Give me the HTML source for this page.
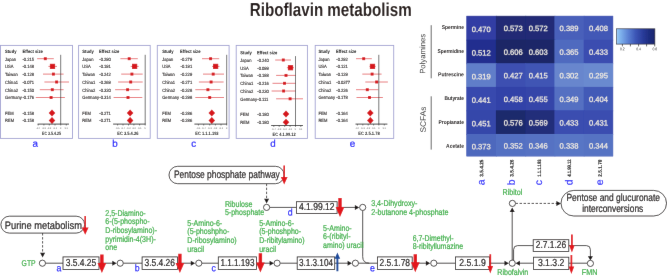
<!DOCTYPE html>
<html>
<head>
<meta charset="utf-8">
<title>Riboflavin metabolism</title>
<style>
html, body { margin: 0; padding: 0; background: #ffffff; }
body { width: 667px; height: 279px; overflow: hidden; font-family: "Liberation Sans", sans-serif; }
svg { display: block; font-family: "Liberation Sans", sans-serif; }
svg text { font-family: "Liberation Sans", sans-serif; }
</style>
</head>
<body>
<svg width="667" height="279" viewBox="0 0 667 279">
<defs><filter id="soft" x="0" y="0" width="667" height="279" filterUnits="userSpaceOnUse"><feConvolveMatrix order="3" kernelMatrix="0.00163 0.03713 0.00163 0.03713 0.84497 0.03713 0.00163 0.03713 0.00163" divisor="1" bias="0" edgeMode="duplicate" preserveAlpha="true"/></filter></defs>
<rect x="0" y="0" width="667" height="279" fill="#ffffff"/>
<g filter="url(#soft)">
<rect x="0" y="0" width="667" height="279" fill="#ffffff"/>
<text transform="translate(249.80 15.70) rotate(0.03) scale(0.8077 1)" font-size="18.8" fill="#231815" font-weight="bold">Riboflavin metabolism</text>
<rect x="0.5" y="45.4" width="72.00" height="93.00" fill="#fff" stroke="#a4a4d3" stroke-width="0.9"/>
<text transform="translate(5.00 52.90) rotate(0.03) scale(0.8800 1)" font-size="4.7" fill="#111" font-weight="bold">Study</text>
<text transform="translate(22.40 52.90) rotate(0.03) scale(0.8800 1)" font-size="4.7" fill="#111" font-weight="bold">Effect size</text>
<text transform="translate(5.00 60.50) rotate(0.03) scale(0.8700 1)" font-size="4.7" fill="#262222" stroke="#262222" stroke-width="0.12">Japan</text>
<text transform="translate(22.40 60.50) rotate(0.03) scale(0.8700 1)" font-size="4.7" fill="#262222" stroke="#262222" stroke-width="0.12">-0.215</text>
<line x1="37.1" y1="58.7" x2="53.8" y2="58.7" stroke="#d6181c" stroke-width="0.55"/>
<rect x="43.85" y="57.25" width="2.9" height="2.9" fill="#d6181c"/>
<text transform="translate(5.00 68.20) rotate(0.03) scale(0.8700 1)" font-size="4.7" fill="#262222" stroke="#262222" stroke-width="0.12">USA</text>
<text transform="translate(22.40 68.20) rotate(0.03) scale(0.8700 1)" font-size="4.7" fill="#262222" stroke="#262222" stroke-width="0.12">-0.148</text>
<line x1="48.4" y1="66.4" x2="57.0" y2="66.4" stroke="#d6181c" stroke-width="0.55"/>
<rect x="49.90" y="63.80" width="5.2" height="5.2" fill="#d6181c"/>
<text transform="translate(5.00 75.90) rotate(0.03) scale(0.8700 1)" font-size="4.7" fill="#262222" stroke="#262222" stroke-width="0.12">Taiwan</text>
<text transform="translate(22.40 75.90) rotate(0.03) scale(0.8700 1)" font-size="4.7" fill="#262222" stroke="#262222" stroke-width="0.12">-0.128</text>
<line x1="43.0" y1="74.1" x2="63.6" y2="74.1" stroke="#d6181c" stroke-width="0.55"/>
<rect x="51.95" y="72.65" width="2.9" height="2.9" fill="#d6181c"/>
<text transform="translate(5.00 83.80) rotate(0.03) scale(0.8700 1)" font-size="4.7" fill="#262222" stroke="#262222" stroke-width="0.12">China1</text>
<text transform="translate(22.40 83.80) rotate(0.03) scale(0.8700 1)" font-size="4.7" fill="#262222" stroke="#262222" stroke-width="0.12">-0.071</text>
<line x1="44.4" y1="82.0" x2="69.0" y2="82.0" stroke="#d6181c" stroke-width="0.55"/>
<rect x="55.15" y="80.55" width="2.9" height="2.9" fill="#d6181c"/>
<text transform="translate(5.00 91.50) rotate(0.03) scale(0.8700 1)" font-size="4.7" fill="#262222" stroke="#262222" stroke-width="0.12">China2</text>
<text transform="translate(22.40 91.50) rotate(0.03) scale(0.8700 1)" font-size="4.7" fill="#262222" stroke="#262222" stroke-width="0.12">-0.150</text>
<line x1="39.8" y1="89.7" x2="63.6" y2="89.7" stroke="#d6181c" stroke-width="0.55"/>
<rect x="50.85" y="88.25" width="2.9" height="2.9" fill="#d6181c"/>
<text transform="translate(5.00 99.30) rotate(0.03) scale(0.8700 1)" font-size="4.7" fill="#262222" stroke="#262222" stroke-width="0.12">Germany</text>
<text transform="translate(22.40 99.30) rotate(0.03) scale(0.8700 1)" font-size="4.7" fill="#262222" stroke="#262222" stroke-width="0.12">-0.176</text>
<line x1="35.8" y1="97.5" x2="64.9" y2="97.5" stroke="#d6181c" stroke-width="0.55"/>
<rect x="49.65" y="96.05" width="2.9" height="2.9" fill="#d6181c"/>
<text transform="translate(5.00 114.70) rotate(0.03) scale(0.8700 1)" font-size="4.7" fill="#262222" stroke="#262222" stroke-width="0.12">FEM</text>
<text transform="translate(22.40 114.70) rotate(0.03) scale(0.8700 1)" font-size="4.7" fill="#262222" stroke="#262222" stroke-width="0.12">-0.158</text>
<path d="M48.70 112.9 L52.0 109.4 L55.30 112.9 L52.0 116.4 Z" fill="#d6181c"/>
<text transform="translate(5.00 122.30) rotate(0.03) scale(0.8700 1)" font-size="4.7" fill="#262222" stroke="#262222" stroke-width="0.12">REM</text>
<text transform="translate(22.40 122.30) rotate(0.03) scale(0.8700 1)" font-size="4.7" fill="#262222" stroke="#262222" stroke-width="0.12">-0.158</text>
<path d="M48.70 120.5 L52.0 117.0 L55.30 120.5 L52.0 124.0 Z" fill="#d6181c"/>
<line x1="60.7" y1="54.8" x2="60.7" y2="124.1" stroke="#3c3c3c" stroke-width="0.7"/>
<line x1="37.6" y1="124.1" x2="69.0" y2="124.1" stroke="#222" stroke-width="0.8"/>
<line x1="38.2" y1="124.1" x2="38.2" y2="125.5" stroke="#222" stroke-width="0.55"/>
<text transform="translate(38.20 128.70) rotate(0.03) scale(0.8500 1)" font-size="2.7" fill="#555" text-anchor="middle">-0.4</text>
<line x1="43.9" y1="124.1" x2="43.9" y2="125.5" stroke="#222" stroke-width="0.55"/>
<text transform="translate(43.90 128.70) rotate(0.03) scale(0.8500 1)" font-size="2.7" fill="#555" text-anchor="middle">-0.3</text>
<line x1="49.3" y1="124.1" x2="49.3" y2="125.5" stroke="#222" stroke-width="0.55"/>
<text transform="translate(49.30 128.70) rotate(0.03) scale(0.8500 1)" font-size="2.7" fill="#555" text-anchor="middle">-0.2</text>
<line x1="55.0" y1="124.1" x2="55.0" y2="125.5" stroke="#222" stroke-width="0.55"/>
<text transform="translate(55.00 128.70) rotate(0.03) scale(0.8500 1)" font-size="2.7" fill="#555" text-anchor="middle">-0.1</text>
<line x1="60.7" y1="124.1" x2="60.7" y2="125.5" stroke="#222" stroke-width="0.55"/>
<text transform="translate(60.70 128.70) rotate(0.03) scale(0.8500 1)" font-size="2.7" fill="#555" text-anchor="middle">0</text>
<line x1="66.3" y1="124.1" x2="66.3" y2="125.5" stroke="#222" stroke-width="0.55"/>
<text transform="translate(66.30 128.70) rotate(0.03) scale(0.8500 1)" font-size="2.7" fill="#555" text-anchor="middle">0.1</text>
<text transform="translate(51.50 134.70) rotate(0.03) scale(0.7416 1)" font-size="4.8" fill="#222" font-weight="bold" text-anchor="middle">EC 3.5.4.25</text>
<rect x="78.6" y="45.4" width="71.60" height="93.00" fill="#fff" stroke="#a4a4d3" stroke-width="0.9"/>
<text transform="translate(82.30 52.90) rotate(0.03) scale(0.8800 1)" font-size="4.7" fill="#111" font-weight="bold">Study</text>
<text transform="translate(98.90 52.90) rotate(0.03) scale(0.8800 1)" font-size="4.7" fill="#111" font-weight="bold">Effect size</text>
<text transform="translate(82.30 60.50) rotate(0.03) scale(0.8700 1)" font-size="4.7" fill="#262222" stroke="#262222" stroke-width="0.12">Japan</text>
<text transform="translate(99.30 60.50) rotate(0.03) scale(0.8700 1)" font-size="4.7" fill="#262222" stroke="#262222" stroke-width="0.12">-0.290</text>
<line x1="120.4" y1="58.7" x2="137.8" y2="58.7" stroke="#d6181c" stroke-width="0.55"/>
<rect x="127.75" y="57.25" width="2.9" height="2.9" fill="#d6181c"/>
<text transform="translate(82.30 68.20) rotate(0.03) scale(0.8700 1)" font-size="4.7" fill="#262222" stroke="#262222" stroke-width="0.12">USA</text>
<text transform="translate(99.30 68.20) rotate(0.03) scale(0.8700 1)" font-size="4.7" fill="#262222" stroke="#262222" stroke-width="0.12">-0.191</text>
<line x1="130.7" y1="66.4" x2="138.7" y2="66.4" stroke="#d6181c" stroke-width="0.55"/>
<rect x="132.00" y="63.80" width="5.2" height="5.2" fill="#d6181c"/>
<text transform="translate(82.30 75.90) rotate(0.03) scale(0.8700 1)" font-size="4.7" fill="#262222" stroke="#262222" stroke-width="0.12">Taiwan</text>
<text transform="translate(99.30 75.90) rotate(0.03) scale(0.8700 1)" font-size="4.7" fill="#262222" stroke="#262222" stroke-width="0.12">-0.242</text>
<line x1="121.2" y1="74.1" x2="142.7" y2="74.1" stroke="#d6181c" stroke-width="0.55"/>
<rect x="130.45" y="72.65" width="2.9" height="2.9" fill="#d6181c"/>
<text transform="translate(82.30 83.80) rotate(0.03) scale(0.8700 1)" font-size="4.7" fill="#262222" stroke="#262222" stroke-width="0.12">China1</text>
<text transform="translate(99.30 83.80) rotate(0.03) scale(0.8700 1)" font-size="4.7" fill="#262222" stroke="#262222" stroke-width="0.12">-0.269</text>
<line x1="118.1" y1="82.0" x2="142.7" y2="82.0" stroke="#d6181c" stroke-width="0.55"/>
<rect x="129.25" y="80.55" width="2.9" height="2.9" fill="#d6181c"/>
<text transform="translate(82.30 91.50) rotate(0.03) scale(0.8700 1)" font-size="4.7" fill="#262222" stroke="#262222" stroke-width="0.12">China2</text>
<text transform="translate(99.30 91.50) rotate(0.03) scale(0.8700 1)" font-size="4.7" fill="#262222" stroke="#262222" stroke-width="0.12">-0.320</text>
<line x1="115.1" y1="89.7" x2="139.6" y2="89.7" stroke="#d6181c" stroke-width="0.55"/>
<rect x="126.15" y="88.25" width="2.9" height="2.9" fill="#d6181c"/>
<text transform="translate(82.30 99.30) rotate(0.03) scale(0.8700 1)" font-size="4.7" fill="#262222" stroke="#262222" stroke-width="0.12">Germany</text>
<text transform="translate(99.30 99.30) rotate(0.03) scale(0.8700 1)" font-size="4.7" fill="#262222" stroke="#262222" stroke-width="0.12">-0.314</text>
<line x1="113.6" y1="97.5" x2="142.3" y2="97.5" stroke="#d6181c" stroke-width="0.55"/>
<rect x="126.55" y="96.05" width="2.9" height="2.9" fill="#d6181c"/>
<text transform="translate(82.30 114.70) rotate(0.03) scale(0.8700 1)" font-size="4.7" fill="#262222" stroke="#262222" stroke-width="0.12">FEM</text>
<text transform="translate(99.30 114.70) rotate(0.03) scale(0.8700 1)" font-size="4.7" fill="#262222" stroke="#262222" stroke-width="0.12">-0.271</text>
<path d="M126.80 112.9 L130.1 109.4 L133.40 112.9 L130.1 116.4 Z" fill="#d6181c"/>
<text transform="translate(82.30 122.30) rotate(0.03) scale(0.8700 1)" font-size="4.7" fill="#262222" stroke="#262222" stroke-width="0.12">REM</text>
<text transform="translate(99.30 122.30) rotate(0.03) scale(0.8700 1)" font-size="4.7" fill="#262222" stroke="#262222" stroke-width="0.12">-0.271</text>
<path d="M126.80 120.5 L130.1 117.0 L133.40 120.5 L130.1 124.0 Z" fill="#d6181c"/>
<line x1="145.2" y1="54.8" x2="145.2" y2="124.1" stroke="#3c3c3c" stroke-width="0.7"/>
<line x1="113.1" y1="124.1" x2="145.6" y2="124.1" stroke="#222" stroke-width="0.8"/>
<line x1="117.6" y1="124.1" x2="117.6" y2="125.5" stroke="#222" stroke-width="0.55"/>
<text transform="translate(117.60 128.70) rotate(0.03) scale(0.8500 1)" font-size="2.7" fill="#555" text-anchor="middle">-0.5</text>
<line x1="123.0" y1="124.1" x2="123.0" y2="125.5" stroke="#222" stroke-width="0.55"/>
<text transform="translate(123.00 128.70) rotate(0.03) scale(0.8500 1)" font-size="2.7" fill="#555" text-anchor="middle">-0.4</text>
<line x1="128.5" y1="124.1" x2="128.5" y2="125.5" stroke="#222" stroke-width="0.55"/>
<text transform="translate(128.50 128.70) rotate(0.03) scale(0.8500 1)" font-size="2.7" fill="#555" text-anchor="middle">-0.3</text>
<line x1="133.9" y1="124.1" x2="133.9" y2="125.5" stroke="#222" stroke-width="0.55"/>
<text transform="translate(133.90 128.70) rotate(0.03) scale(0.8500 1)" font-size="2.7" fill="#555" text-anchor="middle">-0.2</text>
<line x1="139.6" y1="124.1" x2="139.6" y2="125.5" stroke="#222" stroke-width="0.55"/>
<text transform="translate(139.60 128.70) rotate(0.03) scale(0.8500 1)" font-size="2.7" fill="#555" text-anchor="middle">-0.1</text>
<line x1="145.2" y1="124.1" x2="145.2" y2="125.5" stroke="#222" stroke-width="0.55"/>
<text transform="translate(145.20 128.70) rotate(0.03) scale(0.8500 1)" font-size="2.7" fill="#555" text-anchor="middle">0</text>
<text transform="translate(127.80 134.70) rotate(0.03) scale(0.8363 1)" font-size="4.8" fill="#222" font-weight="bold" text-anchor="middle">EC 3.5.4.26</text>
<rect x="157.3" y="45.4" width="71.80" height="93.00" fill="#fff" stroke="#a4a4d3" stroke-width="0.9"/>
<text transform="translate(162.20 52.90) rotate(0.03) scale(0.8800 1)" font-size="4.7" fill="#111" font-weight="bold">Study</text>
<text transform="translate(180.10 52.90) rotate(0.03) scale(0.8800 1)" font-size="4.7" fill="#111" font-weight="bold">Effect size</text>
<text transform="translate(162.20 60.50) rotate(0.03) scale(0.8700 1)" font-size="4.7" fill="#262222" stroke="#262222" stroke-width="0.12">Japan</text>
<text transform="translate(180.60 60.50) rotate(0.03) scale(0.8700 1)" font-size="4.7" fill="#262222" stroke="#262222" stroke-width="0.12">-0.279</text>
<line x1="202.0" y1="58.7" x2="219.2" y2="58.7" stroke="#d6181c" stroke-width="0.55"/>
<rect x="209.15" y="57.25" width="2.9" height="2.9" fill="#d6181c"/>
<text transform="translate(162.20 68.20) rotate(0.03) scale(0.8700 1)" font-size="4.7" fill="#262222" stroke="#262222" stroke-width="0.12">USA</text>
<text transform="translate(180.60 68.20) rotate(0.03) scale(0.8700 1)" font-size="4.7" fill="#262222" stroke="#262222" stroke-width="0.12">-0.191</text>
<line x1="212.0" y1="66.4" x2="219.5" y2="66.4" stroke="#d6181c" stroke-width="0.55"/>
<rect x="213.00" y="63.80" width="5.2" height="5.2" fill="#d6181c"/>
<text transform="translate(162.20 75.90) rotate(0.03) scale(0.8700 1)" font-size="4.7" fill="#262222" stroke="#262222" stroke-width="0.12">Taiwan</text>
<text transform="translate(180.60 75.90) rotate(0.03) scale(0.8700 1)" font-size="4.7" fill="#262222" stroke="#262222" stroke-width="0.12">-0.229</text>
<line x1="203.0" y1="74.1" x2="224.0" y2="74.1" stroke="#d6181c" stroke-width="0.55"/>
<rect x="211.75" y="72.65" width="2.9" height="2.9" fill="#d6181c"/>
<text transform="translate(162.20 83.80) rotate(0.03) scale(0.8700 1)" font-size="4.7" fill="#262222" stroke="#262222" stroke-width="0.12">China1</text>
<text transform="translate(180.60 83.80) rotate(0.03) scale(0.8700 1)" font-size="4.7" fill="#262222" stroke="#262222" stroke-width="0.12">-0.271</text>
<line x1="198.9" y1="82.0" x2="223.6" y2="82.0" stroke="#d6181c" stroke-width="0.55"/>
<rect x="209.65" y="80.55" width="2.9" height="2.9" fill="#d6181c"/>
<text transform="translate(162.20 91.50) rotate(0.03) scale(0.8700 1)" font-size="4.7" fill="#262222" stroke="#262222" stroke-width="0.12">China2</text>
<text transform="translate(180.60 91.50) rotate(0.03) scale(0.8700 1)" font-size="4.7" fill="#262222" stroke="#262222" stroke-width="0.12">-0.328</text>
<line x1="195.3" y1="89.7" x2="220.4" y2="89.7" stroke="#d6181c" stroke-width="0.55"/>
<rect x="206.45" y="88.25" width="2.9" height="2.9" fill="#d6181c"/>
<text transform="translate(162.20 99.30) rotate(0.03) scale(0.8700 1)" font-size="4.7" fill="#262222" stroke="#262222" stroke-width="0.12">Germany</text>
<text transform="translate(180.60 99.30) rotate(0.03) scale(0.8700 1)" font-size="4.7" fill="#262222" stroke="#262222" stroke-width="0.12">-0.298</text>
<line x1="195.3" y1="97.5" x2="224.0" y2="97.5" stroke="#d6181c" stroke-width="0.55"/>
<rect x="208.25" y="96.05" width="2.9" height="2.9" fill="#d6181c"/>
<text transform="translate(162.20 114.70) rotate(0.03) scale(0.8700 1)" font-size="4.7" fill="#262222" stroke="#262222" stroke-width="0.12">FEM</text>
<text transform="translate(180.60 114.70) rotate(0.03) scale(0.8700 1)" font-size="4.7" fill="#262222" stroke="#262222" stroke-width="0.12">-0.286</text>
<path d="M208.50 112.9 L211.8 109.4 L215.10 112.9 L211.8 116.4 Z" fill="#d6181c"/>
<text transform="translate(162.20 122.30) rotate(0.03) scale(0.8700 1)" font-size="4.7" fill="#262222" stroke="#262222" stroke-width="0.12">REM</text>
<text transform="translate(180.60 122.30) rotate(0.03) scale(0.8700 1)" font-size="4.7" fill="#262222" stroke="#262222" stroke-width="0.12">-0.286</text>
<path d="M208.50 120.5 L211.8 117.0 L215.10 120.5 L211.8 124.0 Z" fill="#d6181c"/>
<line x1="226.7" y1="54.8" x2="226.7" y2="124.1" stroke="#3c3c3c" stroke-width="0.7"/>
<line x1="194.4" y1="124.1" x2="227.1" y2="124.1" stroke="#222" stroke-width="0.8"/>
<line x1="198.4" y1="124.1" x2="198.4" y2="125.5" stroke="#222" stroke-width="0.55"/>
<text transform="translate(198.40 128.70) rotate(0.03) scale(0.8500 1)" font-size="2.7" fill="#555" text-anchor="middle">-0.5</text>
<line x1="203.7" y1="124.1" x2="203.7" y2="125.5" stroke="#222" stroke-width="0.55"/>
<text transform="translate(203.70 128.70) rotate(0.03) scale(0.8500 1)" font-size="2.7" fill="#555" text-anchor="middle">-0.4</text>
<line x1="209.7" y1="124.1" x2="209.7" y2="125.5" stroke="#222" stroke-width="0.55"/>
<text transform="translate(209.70 128.70) rotate(0.03) scale(0.8500 1)" font-size="2.7" fill="#555" text-anchor="middle">-0.3</text>
<line x1="215.4" y1="124.1" x2="215.4" y2="125.5" stroke="#222" stroke-width="0.55"/>
<text transform="translate(215.40 128.70) rotate(0.03) scale(0.8500 1)" font-size="2.7" fill="#555" text-anchor="middle">-0.2</text>
<line x1="221.0" y1="124.1" x2="221.0" y2="125.5" stroke="#222" stroke-width="0.55"/>
<text transform="translate(221.00 128.70) rotate(0.03) scale(0.8500 1)" font-size="2.7" fill="#555" text-anchor="middle">-0.1</text>
<line x1="226.7" y1="124.1" x2="226.7" y2="125.5" stroke="#222" stroke-width="0.55"/>
<text transform="translate(226.70 128.70) rotate(0.03) scale(0.8500 1)" font-size="2.7" fill="#555" text-anchor="middle">0</text>
<text transform="translate(206.95 134.70) rotate(0.03) scale(0.8316 1)" font-size="4.8" fill="#222" font-weight="bold" text-anchor="middle">EC 1.1.1.193</text>
<rect x="236.2" y="45.4" width="71.20" height="93.00" fill="#fff" stroke="#a4a4d3" stroke-width="0.9"/>
<text transform="translate(240.30 54.20) rotate(0.03) scale(0.8800 1)" font-size="4.7" fill="#111" font-weight="bold">Study</text>
<text transform="translate(256.90 54.20) rotate(0.03) scale(0.8800 1)" font-size="4.7" fill="#111" font-weight="bold">Effect size</text>
<text transform="translate(240.30 61.80) rotate(0.03) scale(0.8700 1)" font-size="4.7" fill="#262222" stroke="#262222" stroke-width="0.12">Japan</text>
<text transform="translate(257.30 61.80) rotate(0.03) scale(0.8700 1)" font-size="4.7" fill="#262222" stroke="#262222" stroke-width="0.12">-0.240</text>
<line x1="275.2" y1="60.0" x2="291.0" y2="60.0" stroke="#d6181c" stroke-width="0.55"/>
<rect x="281.85" y="58.55" width="2.9" height="2.9" fill="#d6181c"/>
<text transform="translate(240.30 69.50) rotate(0.03) scale(0.8700 1)" font-size="4.7" fill="#262222" stroke="#262222" stroke-width="0.12">USA</text>
<text transform="translate(257.30 69.50) rotate(0.03) scale(0.8700 1)" font-size="4.7" fill="#262222" stroke="#262222" stroke-width="0.12">-0.099</text>
<line x1="286.9" y1="67.7" x2="294.0" y2="67.7" stroke="#d6181c" stroke-width="0.55"/>
<rect x="287.90" y="65.10" width="5.2" height="5.2" fill="#d6181c"/>
<text transform="translate(240.30 77.20) rotate(0.03) scale(0.8700 1)" font-size="4.7" fill="#262222" stroke="#262222" stroke-width="0.12">Taiwan</text>
<text transform="translate(257.30 77.20) rotate(0.03) scale(0.8700 1)" font-size="4.7" fill="#262222" stroke="#262222" stroke-width="0.12">-0.188</text>
<line x1="276.1" y1="75.39999999999999" x2="295.8" y2="75.39999999999999" stroke="#d6181c" stroke-width="0.55"/>
<rect x="284.55" y="73.95" width="2.9" height="2.9" fill="#d6181c"/>
<text transform="translate(240.30 85.10) rotate(0.03) scale(0.8700 1)" font-size="4.7" fill="#262222" stroke="#262222" stroke-width="0.12">China1</text>
<text transform="translate(257.30 85.10) rotate(0.03) scale(0.8700 1)" font-size="4.7" fill="#262222" stroke="#262222" stroke-width="0.12">-0.216</text>
<line x1="272.5" y1="83.3" x2="295.8" y2="83.3" stroke="#d6181c" stroke-width="0.55"/>
<rect x="283.05" y="81.85" width="2.9" height="2.9" fill="#d6181c"/>
<text transform="translate(240.30 92.80) rotate(0.03) scale(0.8700 1)" font-size="4.7" fill="#262222" stroke="#262222" stroke-width="0.12">China2</text>
<text transform="translate(257.30 92.80) rotate(0.03) scale(0.8700 1)" font-size="4.7" fill="#262222" stroke="#262222" stroke-width="0.12">-0.230</text>
<line x1="271.6" y1="91.0" x2="295.8" y2="91.0" stroke="#d6181c" stroke-width="0.55"/>
<rect x="282.15" y="89.55" width="2.9" height="2.9" fill="#d6181c"/>
<text transform="translate(240.30 100.60) rotate(0.03) scale(0.8700 1)" font-size="4.7" fill="#262222" stroke="#262222" stroke-width="0.12">Germany</text>
<text transform="translate(257.30 100.60) rotate(0.03) scale(0.8700 1)" font-size="4.7" fill="#262222" stroke="#262222" stroke-width="0.12">-0.111</text>
<line x1="276.1" y1="98.8" x2="303.0" y2="98.8" stroke="#d6181c" stroke-width="0.55"/>
<rect x="288.65" y="97.35" width="2.9" height="2.9" fill="#d6181c"/>
<text transform="translate(240.30 115.74) rotate(0.03) scale(0.8700 1)" font-size="4.7" fill="#262222" stroke="#262222" stroke-width="0.12">FEM</text>
<text transform="translate(257.30 115.74) rotate(0.03) scale(0.8700 1)" font-size="4.7" fill="#262222" stroke="#262222" stroke-width="0.12">-0.180</text>
<path d="M282.70 113.94000000000001 L286.0 110.44000000000001 L289.30 113.94000000000001 L286.0 117.44000000000001 Z" fill="#d6181c"/>
<text transform="translate(240.30 123.99) rotate(0.03) scale(0.8700 1)" font-size="4.7" fill="#262222" stroke="#262222" stroke-width="0.12">REM</text>
<text transform="translate(257.30 123.99) rotate(0.03) scale(0.8700 1)" font-size="4.7" fill="#262222" stroke="#262222" stroke-width="0.12">-0.180</text>
<path d="M282.70 122.19 L286.0 118.69 L289.30 122.19 L286.0 125.69 Z" fill="#d6181c"/>
<line x1="295.5" y1="56.099999999999994" x2="295.5" y2="125.53" stroke="#3c3c3c" stroke-width="0.7"/>
<line x1="271.1" y1="125.53" x2="303.0" y2="125.53" stroke="#222" stroke-width="0.8"/>
<line x1="273.8" y1="125.53" x2="273.8" y2="126.93" stroke="#222" stroke-width="0.55"/>
<text transform="translate(273.80 130.13) rotate(0.03) scale(0.8500 1)" font-size="2.7" fill="#555" text-anchor="middle">-0.4</text>
<line x1="279.2" y1="125.53" x2="279.2" y2="126.93" stroke="#222" stroke-width="0.55"/>
<text transform="translate(279.20 130.13) rotate(0.03) scale(0.8500 1)" font-size="2.7" fill="#555" text-anchor="middle">-0.3</text>
<line x1="284.7" y1="125.53" x2="284.7" y2="126.93" stroke="#222" stroke-width="0.55"/>
<text transform="translate(284.70 130.13) rotate(0.03) scale(0.8500 1)" font-size="2.7" fill="#555" text-anchor="middle">-0.2</text>
<line x1="290.1" y1="125.53" x2="290.1" y2="126.93" stroke="#222" stroke-width="0.55"/>
<text transform="translate(290.10 130.13) rotate(0.03) scale(0.8500 1)" font-size="2.7" fill="#555" text-anchor="middle">-0.1</text>
<line x1="295.5" y1="125.53" x2="295.5" y2="126.93" stroke="#222" stroke-width="0.55"/>
<text transform="translate(295.50 130.13) rotate(0.03) scale(0.8500 1)" font-size="2.7" fill="#555" text-anchor="middle">0</text>
<line x1="300.8" y1="125.53" x2="300.8" y2="126.93" stroke="#222" stroke-width="0.55"/>
<text transform="translate(300.80 130.13) rotate(0.03) scale(0.8500 1)" font-size="2.7" fill="#555" text-anchor="middle">0.1</text>
<text transform="translate(284.15 135.61) rotate(0.03) scale(0.8316 1)" font-size="4.8" fill="#222" font-weight="bold" text-anchor="middle">EC 4.1.99.12</text>
<rect x="315.2" y="45.4" width="78.50" height="93.00" fill="#fff" stroke="#a4a4d3" stroke-width="0.9"/>
<text transform="translate(318.40 52.90) rotate(0.03) scale(0.8800 1)" font-size="4.7" fill="#111" font-weight="bold">Study</text>
<text transform="translate(335.90 52.90) rotate(0.03) scale(0.8800 1)" font-size="4.7" fill="#111" font-weight="bold">Effect size</text>
<text transform="translate(318.40 60.50) rotate(0.03) scale(0.8700 1)" font-size="4.7" fill="#262222" stroke="#262222" stroke-width="0.12">Japan</text>
<text transform="translate(336.30 60.50) rotate(0.03) scale(0.8700 1)" font-size="4.7" fill="#262222" stroke="#262222" stroke-width="0.12">-0.292</text>
<line x1="356.0" y1="58.7" x2="371.8" y2="58.7" stroke="#d6181c" stroke-width="0.55"/>
<rect x="362.25" y="57.25" width="2.9" height="2.9" fill="#d6181c"/>
<text transform="translate(318.40 68.20) rotate(0.03) scale(0.8700 1)" font-size="4.7" fill="#262222" stroke="#262222" stroke-width="0.12">USA</text>
<text transform="translate(336.30 68.20) rotate(0.03) scale(0.8700 1)" font-size="4.7" fill="#262222" stroke="#262222" stroke-width="0.12">-0.121</text>
<line x1="369.5" y1="66.4" x2="375.7" y2="66.4" stroke="#d6181c" stroke-width="0.55"/>
<rect x="369.90" y="63.80" width="5.2" height="5.2" fill="#d6181c"/>
<text transform="translate(318.40 75.90) rotate(0.03) scale(0.8700 1)" font-size="4.7" fill="#262222" stroke="#262222" stroke-width="0.12">Taiwan</text>
<text transform="translate(336.30 75.90) rotate(0.03) scale(0.8700 1)" font-size="4.7" fill="#262222" stroke="#262222" stroke-width="0.12">-0.129</text>
<line x1="362.3" y1="74.1" x2="381.6" y2="74.1" stroke="#d6181c" stroke-width="0.55"/>
<rect x="370.65" y="72.65" width="2.9" height="2.9" fill="#d6181c"/>
<text transform="translate(318.40 83.80) rotate(0.03) scale(0.8700 1)" font-size="4.7" fill="#262222" stroke="#262222" stroke-width="0.12">China1</text>
<text transform="translate(336.30 83.80) rotate(0.03) scale(0.8700 1)" font-size="4.7" fill="#262222" stroke="#262222" stroke-width="0.12">-0.0377</text>
<line x1="365.3" y1="82.0" x2="387.9" y2="82.0" stroke="#d6181c" stroke-width="0.55"/>
<rect x="375.15" y="80.55" width="2.9" height="2.9" fill="#d6181c"/>
<text transform="translate(318.40 91.50) rotate(0.03) scale(0.8700 1)" font-size="4.7" fill="#262222" stroke="#262222" stroke-width="0.12">China2</text>
<text transform="translate(336.30 91.50) rotate(0.03) scale(0.8700 1)" font-size="4.7" fill="#262222" stroke="#262222" stroke-width="0.12">-0.226</text>
<line x1="356.0" y1="89.7" x2="378.4" y2="89.7" stroke="#d6181c" stroke-width="0.55"/>
<rect x="365.85" y="88.25" width="2.9" height="2.9" fill="#d6181c"/>
<text transform="translate(318.40 99.30) rotate(0.03) scale(0.8700 1)" font-size="4.7" fill="#262222" stroke="#262222" stroke-width="0.12">Germany</text>
<text transform="translate(336.30 99.30) rotate(0.03) scale(0.8700 1)" font-size="4.7" fill="#262222" stroke="#262222" stroke-width="0.12">-0.178</text>
<line x1="356.5" y1="97.5" x2="382.9" y2="97.5" stroke="#d6181c" stroke-width="0.55"/>
<rect x="368.05" y="96.05" width="2.9" height="2.9" fill="#d6181c"/>
<text transform="translate(318.40 114.70) rotate(0.03) scale(0.8700 1)" font-size="4.7" fill="#262222" stroke="#262222" stroke-width="0.12">FEM</text>
<text transform="translate(336.30 114.70) rotate(0.03) scale(0.8700 1)" font-size="4.7" fill="#262222" stroke="#262222" stroke-width="0.12">-0.164</text>
<path d="M367.00 112.9 L370.3 109.4 L373.60 112.9 L370.3 116.4 Z" fill="#d6181c"/>
<text transform="translate(318.40 122.30) rotate(0.03) scale(0.8700 1)" font-size="4.7" fill="#262222" stroke="#262222" stroke-width="0.12">REM</text>
<text transform="translate(336.30 122.30) rotate(0.03) scale(0.8700 1)" font-size="4.7" fill="#262222" stroke="#262222" stroke-width="0.12">-0.164</text>
<path d="M367.00 120.5 L370.3 117.0 L373.60 120.5 L370.3 124.0 Z" fill="#d6181c"/>
<line x1="378.8" y1="54.8" x2="378.8" y2="124.1" stroke="#3c3c3c" stroke-width="0.7"/>
<line x1="355.5" y1="124.1" x2="387.4" y2="124.1" stroke="#222" stroke-width="0.8"/>
<line x1="357.4" y1="124.1" x2="357.4" y2="125.5" stroke="#222" stroke-width="0.55"/>
<text transform="translate(357.40 128.70) rotate(0.03) scale(0.8500 1)" font-size="2.7" fill="#555" text-anchor="middle">-0.4</text>
<line x1="362.8" y1="124.1" x2="362.8" y2="125.5" stroke="#222" stroke-width="0.55"/>
<text transform="translate(362.80 128.70) rotate(0.03) scale(0.8500 1)" font-size="2.7" fill="#555" text-anchor="middle">-0.3</text>
<line x1="368.2" y1="124.1" x2="368.2" y2="125.5" stroke="#222" stroke-width="0.55"/>
<text transform="translate(368.20 128.70) rotate(0.03) scale(0.8500 1)" font-size="2.7" fill="#555" text-anchor="middle">-0.2</text>
<line x1="373.6" y1="124.1" x2="373.6" y2="125.5" stroke="#222" stroke-width="0.55"/>
<text transform="translate(373.60 128.70) rotate(0.03) scale(0.8500 1)" font-size="2.7" fill="#555" text-anchor="middle">-0.1</text>
<line x1="378.8" y1="124.1" x2="378.8" y2="125.5" stroke="#222" stroke-width="0.55"/>
<text transform="translate(378.80 128.70) rotate(0.03) scale(0.8500 1)" font-size="2.7" fill="#555" text-anchor="middle">0</text>
<line x1="384.3" y1="124.1" x2="384.3" y2="125.5" stroke="#222" stroke-width="0.55"/>
<text transform="translate(384.30 128.70) rotate(0.03) scale(0.8500 1)" font-size="2.7" fill="#555" text-anchor="middle">0.1</text>
<text transform="translate(368.95 134.70) rotate(0.03) scale(0.8481 1)" font-size="4.8" fill="#222" font-weight="bold" text-anchor="middle">EC 2.5.1.78</text>
<text transform="translate(35.20 146.80) rotate(0.03) scale(1.0000 1)" font-size="9.8" fill="#2323fb" text-anchor="middle" stroke="#2323fb" stroke-width="0.2">a</text>
<text transform="translate(115.00 146.80) rotate(0.03) scale(1.0000 1)" font-size="9.8" fill="#2323fb" text-anchor="middle" stroke="#2323fb" stroke-width="0.2">b</text>
<text transform="translate(193.70 146.80) rotate(0.03) scale(1.0000 1)" font-size="9.8" fill="#2323fb" text-anchor="middle" stroke="#2323fb" stroke-width="0.2">c</text>
<text transform="translate(273.00 146.80) rotate(0.03) scale(1.0000 1)" font-size="9.8" fill="#2323fb" text-anchor="middle" stroke="#2323fb" stroke-width="0.2">d</text>
<text transform="translate(352.40 146.80) rotate(0.03) scale(1.0000 1)" font-size="9.8" fill="#2323fb" text-anchor="middle" stroke="#2323fb" stroke-width="0.2">e</text>
<rect x="466.5" y="15.9" width="146.60" height="140.40" fill="#3a4eae"/>
<rect x="466.5" y="15.9" width="30.40" height="24.80" fill="rgb(48, 62, 164)"/>
<rect x="495.9" y="15.9" width="30.30" height="24.80" fill="rgb(32, 44, 116)"/>
<rect x="525.2" y="15.9" width="30.20" height="24.80" fill="rgb(32, 44, 118)"/>
<rect x="554.4" y="15.9" width="30.30" height="24.80" fill="rgb(72, 96, 186)"/>
<rect x="583.7" y="15.9" width="29.40" height="24.80" fill="rgb(66, 88, 182)"/>
<rect x="466.5" y="39.7" width="30.40" height="24.50" fill="rgb(33, 47, 143)"/>
<rect x="495.9" y="39.7" width="30.30" height="24.50" fill="rgb(28, 39, 102)"/>
<rect x="525.2" y="39.7" width="30.20" height="24.50" fill="rgb(28, 39, 103)"/>
<rect x="554.4" y="39.7" width="30.30" height="24.50" fill="rgb(79, 106, 191)"/>
<rect x="583.7" y="39.7" width="29.40" height="24.50" fill="rgb(58, 77, 176)"/>
<rect x="466.5" y="63.2" width="30.40" height="24.70" fill="rgb(96, 126, 201)"/>
<rect x="495.9" y="63.2" width="30.30" height="24.70" fill="rgb(60, 80, 177)"/>
<rect x="525.2" y="63.2" width="30.20" height="24.70" fill="rgb(64, 85, 180)"/>
<rect x="554.4" y="63.2" width="30.30" height="24.70" fill="rgb(103, 134, 205)"/>
<rect x="583.7" y="63.2" width="29.40" height="24.70" fill="rgb(106, 138, 207)"/>
<rect x="466.5" y="86.9" width="30.40" height="24.40" fill="rgb(56, 74, 174)"/>
<rect x="495.9" y="86.9" width="30.30" height="24.40" fill="rgb(51, 67, 168)"/>
<rect x="525.2" y="86.9" width="30.20" height="24.40" fill="rgb(52, 68, 169)"/>
<rect x="554.4" y="86.9" width="30.30" height="24.40" fill="rgb(84, 112, 194)"/>
<rect x="583.7" y="86.9" width="29.40" height="24.40" fill="rgb(67, 90, 183)"/>
<rect x="466.5" y="110.3" width="30.40" height="24.70" fill="rgb(53, 70, 170)"/>
<rect x="495.9" y="110.3" width="30.30" height="24.70" fill="rgb(30, 42, 108)"/>
<rect x="525.2" y="110.3" width="30.20" height="24.70" fill="rgb(33, 45, 122)"/>
<rect x="554.4" y="110.3" width="30.30" height="24.70" fill="rgb(58, 77, 176)"/>
<rect x="583.7" y="110.3" width="29.40" height="24.70" fill="rgb(59, 78, 176)"/>
<rect x="466.5" y="134.0" width="30.40" height="22.30" fill="rgb(77, 103, 189)"/>
<rect x="495.9" y="134.0" width="30.30" height="22.30" fill="rgb(83, 111, 194)"/>
<rect x="525.2" y="134.0" width="30.20" height="22.30" fill="rgb(86, 114, 195)"/>
<rect x="554.4" y="134.0" width="30.30" height="22.30" fill="rgb(89, 118, 197)"/>
<rect x="583.7" y="134.0" width="29.40" height="22.30" fill="rgb(86, 115, 195)"/>
<text transform="translate(481.20 31.90) rotate(0.03) scale(0.9860 1)" font-size="7.7" fill="#ece8e0" text-anchor="middle" stroke="#ece8e0" stroke-width="0.25">0.470</text>
<text transform="translate(513.15 31.10) rotate(0.03) scale(0.9860 1)" font-size="7.7" fill="#ece8e0" text-anchor="middle" stroke="#ece8e0" stroke-width="0.25">0.573</text>
<text transform="translate(538.20 31.10) rotate(0.03) scale(0.9860 1)" font-size="7.7" fill="#ece8e0" text-anchor="middle" stroke="#ece8e0" stroke-width="0.25">0.572</text>
<text transform="translate(569.05 31.10) rotate(0.03) scale(0.9860 1)" font-size="7.7" fill="#ece8e0" text-anchor="middle" stroke="#ece8e0" stroke-width="0.25">0.389</text>
<text transform="translate(598.40 31.10) rotate(0.03) scale(0.9860 1)" font-size="7.7" fill="#ece8e0" text-anchor="middle" stroke="#ece8e0" stroke-width="0.25">0.408</text>
<text transform="translate(481.20 55.55) rotate(0.03) scale(0.9860 1)" font-size="7.7" fill="#ece8e0" text-anchor="middle" stroke="#ece8e0" stroke-width="0.25">0.512</text>
<text transform="translate(513.15 54.75) rotate(0.03) scale(0.9860 1)" font-size="7.7" fill="#ece8e0" text-anchor="middle" stroke="#ece8e0" stroke-width="0.25">0.606</text>
<text transform="translate(538.20 54.75) rotate(0.03) scale(0.9860 1)" font-size="7.7" fill="#ece8e0" text-anchor="middle" stroke="#ece8e0" stroke-width="0.25">0.603</text>
<text transform="translate(569.05 54.75) rotate(0.03) scale(0.9860 1)" font-size="7.7" fill="#ece8e0" text-anchor="middle" stroke="#ece8e0" stroke-width="0.25">0.365</text>
<text transform="translate(598.40 54.75) rotate(0.03) scale(0.9860 1)" font-size="7.7" fill="#ece8e0" text-anchor="middle" stroke="#ece8e0" stroke-width="0.25">0.433</text>
<text transform="translate(481.20 79.15) rotate(0.03) scale(0.9860 1)" font-size="7.7" fill="#ece8e0" text-anchor="middle" stroke="#ece8e0" stroke-width="0.25">0.319</text>
<text transform="translate(513.15 78.35) rotate(0.03) scale(0.9860 1)" font-size="7.7" fill="#ece8e0" text-anchor="middle" stroke="#ece8e0" stroke-width="0.25">0.427</text>
<text transform="translate(538.20 78.35) rotate(0.03) scale(0.9860 1)" font-size="7.7" fill="#ece8e0" text-anchor="middle" stroke="#ece8e0" stroke-width="0.25">0.415</text>
<text transform="translate(569.05 78.35) rotate(0.03) scale(0.9860 1)" font-size="7.7" fill="#ece8e0" text-anchor="middle" stroke="#ece8e0" stroke-width="0.25">0.302</text>
<text transform="translate(598.40 78.35) rotate(0.03) scale(0.9860 1)" font-size="7.7" fill="#ece8e0" text-anchor="middle" stroke="#ece8e0" stroke-width="0.25">0.295</text>
<text transform="translate(481.20 102.70) rotate(0.03) scale(0.9860 1)" font-size="7.7" fill="#ece8e0" text-anchor="middle" stroke="#ece8e0" stroke-width="0.25">0.441</text>
<text transform="translate(513.15 101.90) rotate(0.03) scale(0.9860 1)" font-size="7.7" fill="#ece8e0" text-anchor="middle" stroke="#ece8e0" stroke-width="0.25">0.458</text>
<text transform="translate(538.20 101.90) rotate(0.03) scale(0.9860 1)" font-size="7.7" fill="#ece8e0" text-anchor="middle" stroke="#ece8e0" stroke-width="0.25">0.455</text>
<text transform="translate(569.05 101.90) rotate(0.03) scale(0.9860 1)" font-size="7.7" fill="#ece8e0" text-anchor="middle" stroke="#ece8e0" stroke-width="0.25">0.349</text>
<text transform="translate(598.40 101.90) rotate(0.03) scale(0.9860 1)" font-size="7.7" fill="#ece8e0" text-anchor="middle" stroke="#ece8e0" stroke-width="0.25">0.404</text>
<text transform="translate(481.20 126.25) rotate(0.03) scale(0.9860 1)" font-size="7.7" fill="#ece8e0" text-anchor="middle" stroke="#ece8e0" stroke-width="0.25">0.451</text>
<text transform="translate(513.15 125.45) rotate(0.03) scale(0.9860 1)" font-size="7.7" fill="#ece8e0" text-anchor="middle" stroke="#ece8e0" stroke-width="0.25">0.576</text>
<text transform="translate(538.20 125.45) rotate(0.03) scale(0.9860 1)" font-size="7.7" fill="#ece8e0" text-anchor="middle" stroke="#ece8e0" stroke-width="0.25">0.569</text>
<text transform="translate(569.05 125.45) rotate(0.03) scale(0.9860 1)" font-size="7.7" fill="#ece8e0" text-anchor="middle" stroke="#ece8e0" stroke-width="0.25">0.433</text>
<text transform="translate(598.40 125.45) rotate(0.03) scale(0.9860 1)" font-size="7.7" fill="#ece8e0" text-anchor="middle" stroke="#ece8e0" stroke-width="0.25">0.431</text>
<text transform="translate(481.20 149.25) rotate(0.03) scale(0.9860 1)" font-size="7.7" fill="#ece8e0" text-anchor="middle" stroke="#ece8e0" stroke-width="0.25">0.373</text>
<text transform="translate(513.15 148.45) rotate(0.03) scale(0.9860 1)" font-size="7.7" fill="#ece8e0" text-anchor="middle" stroke="#ece8e0" stroke-width="0.25">0.352</text>
<text transform="translate(538.20 148.45) rotate(0.03) scale(0.9860 1)" font-size="7.7" fill="#ece8e0" text-anchor="middle" stroke="#ece8e0" stroke-width="0.25">0.346</text>
<text transform="translate(569.05 148.45) rotate(0.03) scale(0.9860 1)" font-size="7.7" fill="#ece8e0" text-anchor="middle" stroke="#ece8e0" stroke-width="0.25">0.338</text>
<text transform="translate(598.40 148.45) rotate(0.03) scale(0.9860 1)" font-size="7.7" fill="#ece8e0" text-anchor="middle" stroke="#ece8e0" stroke-width="0.25">0.344</text>
<text transform="translate(441.70 29.00) rotate(0.03) scale(0.8738 1)" font-size="5.6" fill="#1e1a1a" font-weight="bold">Spermine</text>
<text transform="translate(437.50 52.50) rotate(0.03) scale(0.8690 1)" font-size="5.6" fill="#1e1a1a" font-weight="bold">Spermidine</text>
<text transform="translate(438.00 76.20) rotate(0.03) scale(0.9080 1)" font-size="5.6" fill="#1e1a1a" font-weight="bold">Putrescine</text>
<text transform="translate(444.40 100.40) rotate(0.03) scale(0.8628 1)" font-size="5.6" fill="#1e1a1a" font-weight="bold">Butyrate</text>
<text transform="translate(438.60 124.00) rotate(0.03) scale(0.8777 1)" font-size="5.6" fill="#1e1a1a" font-weight="bold">Propianate</text>
<text transform="translate(446.10 147.70) rotate(0.03) scale(0.8847 1)" font-size="5.6" fill="#1e1a1a" font-weight="bold">Acetate</text>
<line x1="431.2" y1="25.2" x2="431.2" y2="78.3" stroke="#444" stroke-width="0.8"/>
<line x1="431.2" y1="96.3" x2="431.2" y2="149.6" stroke="#444" stroke-width="0.8"/>
<text transform="translate(425.20 73.80) rotate(-89.97) scale(0.9921 1)" font-size="7.8" fill="#333">Polyamines</text>
<text transform="translate(425.80 132.60) rotate(-89.97) scale(1.0712 1)" font-size="7.8" fill="#333">SCFAs</text>
<defs><linearGradient id="cb" x1="0" x2="1" y1="0" y2="0"><stop offset="0" stop-color="#9ccdf6"/><stop offset="0.1" stop-color="#80b4ee"/><stop offset="0.3" stop-color="#5c82d4"/><stop offset="0.5" stop-color="#3c56b6"/><stop offset="0.7" stop-color="#283a98"/><stop offset="0.85" stop-color="#1e2d80"/><stop offset="1" stop-color="#1a266c"/></linearGradient></defs>
<rect x="616.4" y="28.8" width="38.5" height="15.3" fill="url(#cb)" stroke="#2a2a3a" stroke-width="0.6"/>
<line x1="622.4" y1="44.1" x2="622.4" y2="46.4" stroke="#222" stroke-width="0.7"/>
<line x1="630.4" y1="44.1" x2="630.4" y2="46.4" stroke="#222" stroke-width="0.7"/>
<line x1="638.6" y1="44.1" x2="638.6" y2="46.4" stroke="#222" stroke-width="0.7"/>
<line x1="646.6" y1="44.1" x2="646.6" y2="46.4" stroke="#222" stroke-width="0.7"/>
<line x1="654.7" y1="44.1" x2="654.7" y2="46.4" stroke="#222" stroke-width="0.7"/>
<text transform="translate(622.40 50.30) rotate(0.03) scale(0.9000 1)" font-size="3.8" fill="#333" text-anchor="middle">0.2</text>
<text transform="translate(638.60 50.30) rotate(0.03) scale(0.9000 1)" font-size="3.8" fill="#333" text-anchor="middle">0.4</text>
<text transform="translate(654.90 50.30) rotate(0.03) scale(0.9000 1)" font-size="3.8" fill="#333" text-anchor="middle">0.6</text>
<text transform="translate(484.40 185.20) rotate(-89.97) scale(1.0000 1)" font-size="10.4" fill="#2323fb" stroke="#2323fb" stroke-width="0.12">a</text>
<text transform="translate(483.20 176.70) rotate(-89.97) scale(0.9518 1)" font-size="5.0" fill="#1a1a1a" font-weight="bold" stroke="#1a1a1a" stroke-width="0.1">3.5.4.25</text>
<text transform="translate(514.70 185.20) rotate(-89.97) scale(1.0000 1)" font-size="10.4" fill="#2323fb" stroke="#2323fb" stroke-width="0.12">b</text>
<text transform="translate(513.50 176.70) rotate(-89.97) scale(0.9518 1)" font-size="5.0" fill="#1a1a1a" font-weight="bold" stroke="#1a1a1a" stroke-width="0.1">3.5.4.26</text>
<text transform="translate(542.10 185.20) rotate(-89.97) scale(1.0000 1)" font-size="10.4" fill="#2323fb" stroke="#2323fb" stroke-width="0.12">c</text>
<text transform="translate(540.90 176.70) rotate(-89.97) scale(0.8249 1)" font-size="5.0" fill="#1a1a1a" font-weight="bold" stroke="#1a1a1a" stroke-width="0.1">1.1.1.193</text>
<text transform="translate(572.50 185.20) rotate(-89.97) scale(1.0000 1)" font-size="10.4" fill="#2323fb" stroke="#2323fb" stroke-width="0.12">d</text>
<text transform="translate(571.30 176.70) rotate(-89.97) scale(0.8249 1)" font-size="5.0" fill="#1a1a1a" font-weight="bold" stroke="#1a1a1a" stroke-width="0.1">4.1.99.12</text>
<text transform="translate(602.90 185.20) rotate(-89.97) scale(1.0000 1)" font-size="10.4" fill="#2323fb" stroke="#2323fb" stroke-width="0.12">e</text>
<text transform="translate(601.70 176.70) rotate(-89.97) scale(0.9518 1)" font-size="5.0" fill="#1a1a1a" font-weight="bold" stroke="#1a1a1a" stroke-width="0.1">2.5.1.78</text>
<line x1="45.4" y1="263.2" x2="63.0" y2="263.2" stroke="#2a2626" stroke-width="0.82"/>
<line x1="99.0" y1="263.2" x2="113.0" y2="263.2" stroke="#2a2626" stroke-width="0.82"/>
<line x1="123.3" y1="263.2" x2="142.1" y2="263.2" stroke="#2a2626" stroke-width="0.82"/>
<line x1="177.4" y1="263.2" x2="191.5" y2="263.2" stroke="#2a2626" stroke-width="0.82"/>
<line x1="202.0" y1="263.2" x2="218.3" y2="263.2" stroke="#2a2626" stroke-width="0.82"/>
<line x1="256.5" y1="263.2" x2="270.5" y2="263.2" stroke="#2a2626" stroke-width="0.82"/>
<line x1="280.3" y1="263.2" x2="297.2" y2="263.2" stroke="#2a2626" stroke-width="0.82"/>
<line x1="334.7" y1="263.2" x2="348.5" y2="263.2" stroke="#2a2626" stroke-width="0.82"/>
<line x1="358.5" y1="263.2" x2="377.0" y2="263.2" stroke="#2a2626" stroke-width="0.82"/>
<line x1="412.1" y1="263.2" x2="426.5" y2="263.2" stroke="#2a2626" stroke-width="0.82"/>
<line x1="437.0" y1="263.2" x2="455.5" y2="263.2" stroke="#2a2626" stroke-width="0.82"/>
<line x1="489.4" y1="263.2" x2="505.0" y2="263.2" stroke="#2a2626" stroke-width="0.82"/>
<line x1="519.0" y1="263.2" x2="533.7" y2="263.2" stroke="#2a2626" stroke-width="0.82"/>
<line x1="568.8" y1="263.2" x2="587.3" y2="263.2" stroke="#2a2626" stroke-width="0.82"/>
<path d="M116.6 263.2 L112.3 260.7 L112.3 265.7 Z" fill="#1a1616"/>
<path d="M195.1 263.2 L190.79999999999998 260.7 L190.79999999999998 265.7 Z" fill="#1a1616"/>
<path d="M273.9 263.2 L269.59999999999997 260.7 L269.59999999999997 265.7 Z" fill="#1a1616"/>
<path d="M351.9 263.2 L347.59999999999997 260.7 L347.59999999999997 265.7 Z" fill="#1a1616"/>
<path d="M430.2 263.2 L425.9 260.7 L425.9 265.7 Z" fill="#1a1616"/>
<path d="M508.8 263.2 L504.5 260.7 L504.5 265.7 Z" fill="#1a1616"/>
<path d="M515.6 263.2 L519.9 260.7 L519.9 265.7 Z" fill="#1a1616"/>
<line x1="269.7" y1="207.4" x2="296.4" y2="207.4" stroke="#2a2626" stroke-width="0.82"/>
<line x1="337.1" y1="207.4" x2="355.5" y2="207.4" stroke="#2a2626" stroke-width="0.82"/>
<path d="M359.2 207.4 L354.9 204.9 L354.9 209.9 Z" fill="#1a1616"/>
<path d="M362.7 210.5 L362.7 256.6 Q362.7 263.2 369.3 263.2" fill="none" stroke="#2a2626" stroke-width="0.82"/>
<line x1="42.6" y1="233.1" x2="42.6" y2="253.0" stroke="#2a2626" stroke-width="0.82" stroke-dasharray="2.4 1.6"/>
<path d="M42.6 257.6 L40.1 252.8 L45.1 252.8 Z" fill="#1a1616"/>
<line x1="266.6" y1="183.7" x2="266.6" y2="199.0" stroke="#2a2626" stroke-width="0.82" stroke-dasharray="2.4 1.6"/>
<path d="M266.6 203.4 L264.1 198.8 L269.1 198.8 Z" fill="#1a1616"/>
<line x1="515.6" y1="203.4" x2="557.0" y2="203.4" stroke="#2a2626" stroke-width="0.82" stroke-dasharray="2.4 1.6"/>
<path d="M561.0 203.4 L556.4 200.9 L556.4 205.9 Z" fill="#1a1616"/>
<line x1="512.2" y1="260.09999999999997" x2="512.2" y2="211.5" stroke="#2a2626" stroke-width="0.82"/>
<path d="M512.2 207.6 L509.70000000000005 212.0 L514.7 212.0 Z" fill="#1a1616"/>
<path d="M513.6 260.2 L513.6 249.6 Q513.6 245.6 517.6 245.6 L533.2 245.6" fill="none" stroke="#2a2626" stroke-width="0.82"/>
<path d="M568.8 245.6 L586.4 245.6 Q590.4 245.6 590.4 249.6 L590.4 257.0" fill="none" stroke="#2a2626" stroke-width="0.82"/>
<path d="M590.4 260.6 L587.9 256.20000000000005 L592.9 256.20000000000005 Z" fill="#1a1616"/>
<circle cx="42.4" cy="263.2" r="3.1" fill="#fff" stroke="#2a2626" stroke-width="0.82"/>
<circle cx="120.2" cy="263.2" r="3.1" fill="#fff" stroke="#2a2626" stroke-width="0.82"/>
<circle cx="198.8" cy="263.2" r="3.1" fill="#fff" stroke="#2a2626" stroke-width="0.82"/>
<circle cx="277.1" cy="263.2" r="3.1" fill="#fff" stroke="#2a2626" stroke-width="0.82"/>
<circle cx="355.4" cy="263.2" r="3.1" fill="#fff" stroke="#2a2626" stroke-width="0.82"/>
<circle cx="433.8" cy="263.2" r="3.1" fill="#fff" stroke="#2a2626" stroke-width="0.82"/>
<circle cx="512.2" cy="263.2" r="3.1" fill="#fff" stroke="#2a2626" stroke-width="0.82"/>
<circle cx="590.4" cy="263.4" r="3.1" fill="#fff" stroke="#2a2626" stroke-width="0.82"/>
<circle cx="266.6" cy="207.4" r="3.1" fill="#fff" stroke="#2a2626" stroke-width="0.82"/>
<circle cx="362.7" cy="207.4" r="3.1" fill="#fff" stroke="#2a2626" stroke-width="0.82"/>
<circle cx="512.4" cy="203.4" r="3.1" fill="#fff" stroke="#2a2626" stroke-width="0.82"/>
<rect x="63.0" y="256.9" width="36.00" height="12.60" fill="#fff" stroke="#2a2626" stroke-width="0.82"/>
<text transform="translate(81.00 266.10) rotate(0.03) scale(0.8383 1)" font-size="10.1" fill="#1a1616" text-anchor="middle" stroke="#1a1616" stroke-width="0.22">3.5.4.25</text>
<rect x="142.1" y="256.9" width="35.30" height="12.60" fill="#fff" stroke="#2a2626" stroke-width="0.82"/>
<text transform="translate(159.75 266.10) rotate(0.03) scale(0.8383 1)" font-size="10.1" fill="#1a1616" text-anchor="middle" stroke="#1a1616" stroke-width="0.22">3.5.4.26</text>
<rect x="218.3" y="256.9" width="38.20" height="12.60" fill="#fff" stroke="#2a2626" stroke-width="0.82"/>
<text transform="translate(237.40 266.10) rotate(0.03) scale(0.8096 1)" font-size="10.1" fill="#1a1616" text-anchor="middle" stroke="#1a1616" stroke-width="0.22">1.1.1.193</text>
<rect x="297.2" y="256.9" width="37.50" height="12.60" fill="#fff" stroke="#2a2626" stroke-width="0.82"/>
<text transform="translate(315.95 266.10) rotate(0.03) scale(0.8096 1)" font-size="10.1" fill="#1a1616" text-anchor="middle" stroke="#1a1616" stroke-width="0.22">3.1.3.104</text>
<rect x="377.4" y="256.9" width="34.80" height="12.60" fill="#fff" stroke="#2a2626" stroke-width="0.82"/>
<text transform="translate(394.80 266.10) rotate(0.03) scale(0.8383 1)" font-size="10.1" fill="#1a1616" text-anchor="middle" stroke="#1a1616" stroke-width="0.22">2.5.1.78</text>
<rect x="455.5" y="256.9" width="33.90" height="12.60" fill="#fff" stroke="#2a2626" stroke-width="0.82"/>
<text transform="translate(472.45 266.10) rotate(0.03) scale(0.8612 1)" font-size="10.1" fill="#1a1616" text-anchor="middle" stroke="#1a1616" stroke-width="0.22">2.5.1.9</text>
<rect x="533.5" y="257.2" width="35.30" height="12.30" fill="#fff" stroke="#2a2626" stroke-width="0.82"/>
<text transform="translate(551.15 266.10) rotate(0.03) scale(0.8612 1)" font-size="10.1" fill="#1a1616" text-anchor="middle" stroke="#1a1616" stroke-width="0.22">3.1.3.2</text>
<rect x="533.2" y="239.7" width="35.60" height="11.80" fill="#fff" stroke="#2a2626" stroke-width="0.82"/>
<text transform="translate(551.00 248.10) rotate(0.03) scale(0.8383 1)" font-size="10.1" fill="#1a1616" text-anchor="middle" stroke="#1a1616" stroke-width="0.22">2.7.1.26</text>
<rect x="296.4" y="201.7" width="40.70" height="11.70" fill="#fff" stroke="#2a2626" stroke-width="0.82"/>
<text transform="translate(316.75 210.00) rotate(0.03) scale(0.8452 1)" font-size="10.1" fill="#1a1616" text-anchor="middle" stroke="#1a1616" stroke-width="0.22">4.1.99.12</text>
<rect x="0.9" y="216.2" width="83.70" height="16.90" rx="8.45" ry="8.45" fill="#fff" stroke="#2a2626" stroke-width="0.82"/>
<text transform="translate(4.80 228.70) rotate(0.03) scale(0.8632 1)" font-size="10.8" fill="#1f1b1b" stroke="#1f1b1b" stroke-width="0.22">Purine metabolism</text>
<rect x="169.0" y="166.3" width="115.10" height="17.40" rx="8.70" ry="8.70" fill="#fff" stroke="#2a2626" stroke-width="0.82"/>
<text transform="translate(174.00 178.20) rotate(0.03) scale(0.7777 1)" font-size="10.8" fill="#1f1b1b" stroke="#1f1b1b" stroke-width="0.22">Pentose phosphate pathway</text>
<rect x="561.0" y="190.4" width="105.50" height="25.60" rx="12.80" ry="12.80" fill="#fff" stroke="#2a2626" stroke-width="0.82"/>
<text transform="translate(613.20 201.00) rotate(0.03) scale(0.8094 1)" font-size="10.4" fill="#1f1b1b" text-anchor="middle" stroke="#1f1b1b" stroke-width="0.22">Pentose and glucuronate</text>
<text transform="translate(612.70 212.40) rotate(0.03) scale(0.8082 1)" font-size="10.4" fill="#1f1b1b" text-anchor="middle" stroke="#1f1b1b" stroke-width="0.22">interconversions</text>
<text transform="translate(56.60 271.30) rotate(0.03) scale(0.9200 1)" font-size="9.6" fill="#2323fb" stroke="#2323fb" stroke-width="0.2">a</text>
<text transform="translate(134.80 271.30) rotate(0.03) scale(0.9200 1)" font-size="9.6" fill="#2323fb" stroke="#2323fb" stroke-width="0.2">b</text>
<text transform="translate(211.40 271.30) rotate(0.03) scale(0.9200 1)" font-size="9.6" fill="#2323fb" stroke="#2323fb" stroke-width="0.2">c</text>
<text transform="translate(287.80 215.50) rotate(0.03) scale(0.9200 1)" font-size="9.6" fill="#2323fb" stroke="#2323fb" stroke-width="0.2">d</text>
<text transform="translate(369.90 271.30) rotate(0.03) scale(0.9200 1)" font-size="9.6" fill="#2323fb" stroke="#2323fb" stroke-width="0.2">e</text>
<text transform="translate(21.60 265.60) rotate(0.03) scale(0.8108 1)" font-size="8.4" fill="#3fb04a" stroke="#3fb04a" stroke-width="0.24">GTP</text>
<text transform="translate(105.30 215.70) rotate(0.03) scale(0.8400 1)" font-size="8.4" fill="#3fb04a" stroke="#3fb04a" stroke-width="0.24">2,5-Diamino-</text>
<text transform="translate(105.30 224.35) rotate(0.03) scale(0.8400 1)" font-size="8.4" fill="#3fb04a" stroke="#3fb04a" stroke-width="0.24">6-(5-phospho-</text>
<text transform="translate(105.30 233.00) rotate(0.03) scale(0.8400 1)" font-size="8.4" fill="#3fb04a" stroke="#3fb04a" stroke-width="0.24">D-ribosylamino)-</text>
<text transform="translate(105.30 241.65) rotate(0.03) scale(0.8400 1)" font-size="8.4" fill="#3fb04a" stroke="#3fb04a" stroke-width="0.24">pyrimidin-4(3H)-</text>
<text transform="translate(105.30 250.30) rotate(0.03) scale(0.8400 1)" font-size="8.4" fill="#3fb04a" stroke="#3fb04a" stroke-width="0.24">one</text>
<text transform="translate(187.30 225.60) rotate(0.03) scale(0.8400 1)" font-size="8.4" fill="#3fb04a" stroke="#3fb04a" stroke-width="0.24">5-Amino-6-</text>
<text transform="translate(187.30 234.30) rotate(0.03) scale(0.8400 1)" font-size="8.4" fill="#3fb04a" stroke="#3fb04a" stroke-width="0.24">(5-phoshpho-</text>
<text transform="translate(187.30 243.00) rotate(0.03) scale(0.8400 1)" font-size="8.4" fill="#3fb04a" stroke="#3fb04a" stroke-width="0.24">D-ribosylamino)</text>
<text transform="translate(187.30 251.70) rotate(0.03) scale(0.8400 1)" font-size="8.4" fill="#3fb04a" stroke="#3fb04a" stroke-width="0.24">uracil</text>
<text transform="translate(259.20 225.60) rotate(0.03) scale(0.8400 1)" font-size="8.4" fill="#3fb04a" stroke="#3fb04a" stroke-width="0.24">5-Amino-6-</text>
<text transform="translate(259.20 234.30) rotate(0.03) scale(0.8400 1)" font-size="8.4" fill="#3fb04a" stroke="#3fb04a" stroke-width="0.24">(5-phoshpho-</text>
<text transform="translate(259.20 243.00) rotate(0.03) scale(0.8400 1)" font-size="8.4" fill="#3fb04a" stroke="#3fb04a" stroke-width="0.24">D-ribitylamino)</text>
<text transform="translate(259.20 251.70) rotate(0.03) scale(0.8400 1)" font-size="8.4" fill="#3fb04a" stroke="#3fb04a" stroke-width="0.24">uracil</text>
<text transform="translate(323.10 230.80) rotate(0.03) scale(0.8400 1)" font-size="8.4" fill="#3fb04a" stroke="#3fb04a" stroke-width="0.24">5-Amino-</text>
<text transform="translate(323.10 239.40) rotate(0.03) scale(0.8400 1)" font-size="8.4" fill="#3fb04a" stroke="#3fb04a" stroke-width="0.24">6-(ribityl-</text>
<text transform="translate(323.10 248.00) rotate(0.03) scale(0.8400 1)" font-size="8.4" fill="#3fb04a" stroke="#3fb04a" stroke-width="0.24">amino) uracil</text>
<text transform="translate(224.90 206.80) rotate(0.03) scale(0.8400 1)" font-size="8.4" fill="#3fb04a" stroke="#3fb04a" stroke-width="0.24">Ribulose</text>
<text transform="translate(224.90 215.30) rotate(0.03) scale(0.8400 1)" font-size="8.4" fill="#3fb04a" stroke="#3fb04a" stroke-width="0.24">5-phosphate</text>
<text transform="translate(371.20 206.00) rotate(0.03) scale(0.8477 1)" font-size="8.4" fill="#3fb04a" stroke="#3fb04a" stroke-width="0.24">3,4-Dihydroxy-</text>
<text transform="translate(371.20 214.60) rotate(0.03) scale(0.8455 1)" font-size="8.4" fill="#3fb04a" stroke="#3fb04a" stroke-width="0.24">2-butanone 4-phosphate</text>
<text transform="translate(412.70 240.60) rotate(0.03) scale(0.8209 1)" font-size="8.4" fill="#3fb04a" stroke="#3fb04a" stroke-width="0.24">6,7-Dimethyl-</text>
<text transform="translate(412.70 249.40) rotate(0.03) scale(0.8305 1)" font-size="8.4" fill="#3fb04a" stroke="#3fb04a" stroke-width="0.24">8-ribityllumazine</text>
<text transform="translate(497.30 275.10) rotate(0.03) scale(0.8404 1)" font-size="8.4" fill="#3fb04a" stroke="#3fb04a" stroke-width="0.24">Ribofalvin</text>
<text transform="translate(581.80 275.10) rotate(0.03) scale(0.8574 1)" font-size="8.4" fill="#3fb04a" stroke="#3fb04a" stroke-width="0.24">FMN</text>
<text transform="translate(502.60 195.00) rotate(0.03) scale(0.8483 1)" font-size="8.4" fill="#3fb04a" stroke="#3fb04a" stroke-width="0.24">Ribitol</text>
<path d="M84.40 216.0 L86.00 216.0 L86.00 227.40 L88.60 227.40 L85.2 234.8 L81.80 227.40 L84.40 227.40 Z" fill="#e2151c"/>
<path d="M283.40 165.4 L285.00 165.4 L285.00 177.00 L287.60 177.00 L284.2 184.6 L280.80 177.00 L283.40 177.00 Z" fill="#e2151c"/>
<path d="M100.20 254.5 L103.60 254.5 L103.60 263.10 L106.30 263.10 L101.9 273.1 L97.50 263.10 L100.20 263.10 Z" fill="#e2151c"/>
<path d="M178.20 253.8 L181.60 253.8 L181.60 263.10 L184.30 263.10 L179.9 273.1 L175.50 263.10 L178.20 263.10 Z" fill="#e2151c"/>
<path d="M258.70 253.3 L262.10 253.3 L262.10 262.40 L264.80 262.40 L260.4 272.4 L256.00 262.40 L258.70 262.40 Z" fill="#e2151c"/>
<path d="M338.30 198.1 L341.70 198.1 L341.70 207.00 L344.40 207.00 L340.0 217.0 L335.60 207.00 L338.30 207.00 Z" fill="#e2151c"/>
<path d="M413.60 254.2 L417.00 254.2 L417.00 262.30 L419.70 262.30 L415.3 272.3 L410.90 262.30 L413.60 262.30 Z" fill="#e2151c"/>
<path d="M489.45 254.2 L491.15 254.2 L491.15 266.00 L493.10 266.00 L490.3 273.6 L487.50 266.00 L489.45 266.00 Z" fill="#e2151c"/>
<path d="M571.05 234.4 L572.75 234.4 L572.75 245.20 L574.70 245.20 L571.9 252.4 L569.10 245.20 L571.05 245.20 Z" fill="#e2151c"/>
<path d="M570.55 255.1 L572.25 255.1 L572.25 266.60 L574.20 266.60 L571.4 274.0 L568.60 266.60 L570.55 266.60 Z" fill="#e2151c"/>
<path d="M336.45 271.3 L338.35 271.3 L338.35 258.80 L340.20 258.80 L337.4 252.4 L334.60 258.80 L336.45 258.80 Z" fill="#1b4b9b"/>
</g>
</svg>
</body>
</html>
